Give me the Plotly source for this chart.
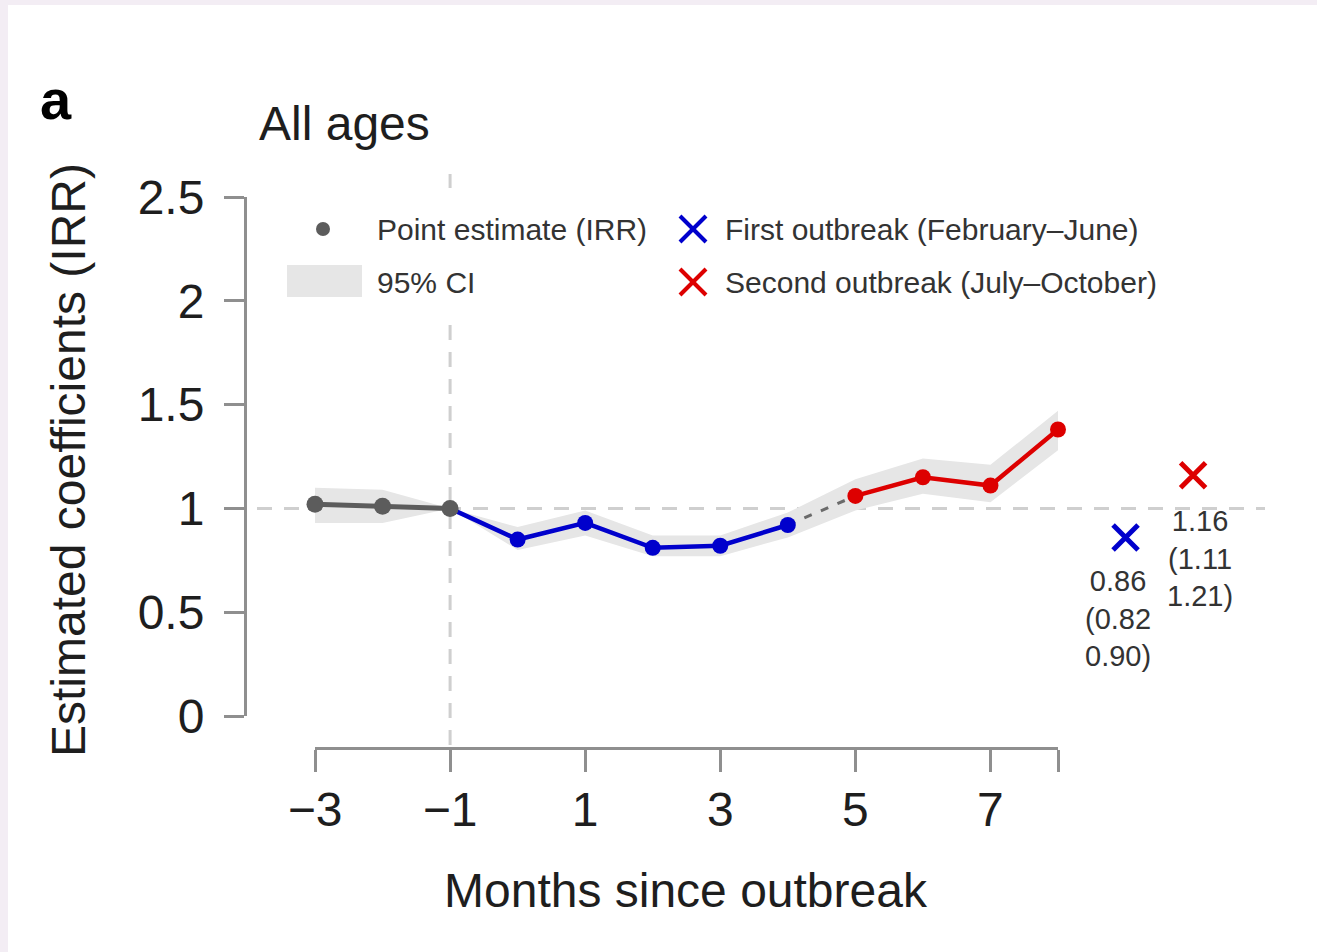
import plotly.graph_objects as go

# ---------------- data ----------------
months = [-3, -2, -1, 0, 1, 2, 3, 4, 5, 6, 7, 8]
irr = [1.02, 1.01, 1.00, 0.85, 0.93, 0.81, 0.82, 0.92, 1.06, 1.15, 1.11, 1.38]
ci_low = [0.93, 0.93, 1.00, 0.80, 0.87, 0.77, 0.77, 0.86, 0.99, 1.07, 1.03, 1.28]
ci_high = [1.10, 1.09, 1.00, 0.91, 0.99, 0.87, 0.87, 0.98, 1.14, 1.24, 1.21, 1.47]

x_tick_vals = [-3, -1, 1, 3, 5, 7]
y_tick_vals = [0, 0.5, 1, 1.5, 2, 2.5]
y_tick_labels = ["0", "0.5", "1", "1.5", "2", "2.5"]

period_names = ["First outbreak (February–June)", "Second outbreak (July–October)"]
period_x = [9, 10]
period_est = [0.86, 1.16]
period_lo = [0.82, 1.11]
period_hi = [0.90, 1.21]

reference_month = -1
first_end = 4
second_start = 5

# ---------------- styles ----------------
GRAY = "#5c5c5c"
BLUE = "#0000CC"
RED = "#DD0000"
BAND = "#e6e6e6"
AXC = "#8f8f8f"
REFC = "#cfcfcf"
TXT = "#1e1e1e"
LEGTXT = "#333333"
FONT = "Liberation Sans, Arial, Helvetica, sans-serif"

W, H = 1317, 952
L, R, T, B = 228, 1268, 172, 752          # plot area in pixels
PX_XA, PX_XB = 315, 1058                  # pixel of x=-3 and x=8
PX_Y0, PX_Y25 = 716, 197                  # pixel of y=0 and y=2.5
XA, XB = -3, 8
sx = (PX_XB - PX_XA) / (XB - XA)
sy = (PX_Y0 - PX_Y25) / 2.5
x_range = [XA - (PX_XA - L) / sx, XA + (R - PX_XA) / sx]
y_range = [-(B - PX_Y0) / sy, (PX_Y0 - T) / sy]


def fx(px):
    return (px - L) / (R - L)


def fy(py):
    return (B - py) / (B - T)


def fmt_minus(v):
    s = f"{v:g}"
    return s.replace("-", "−")


fig = go.Figure()

# CI band
fig.add_trace(go.Scatter(x=months, y=ci_low, mode="lines", line=dict(width=0, color=BAND),
                         showlegend=False, hoverinfo="skip"))
fig.add_trace(go.Scatter(x=months, y=ci_high, mode="lines", line=dict(width=0, color=BAND),
                         fill="tonexty", fillcolor=BAND, showlegend=False, hoverinfo="skip"))

idx = {m: i for i, m in enumerate(months)}
# dashed connector between the two outbreaks
i4, i5 = idx[first_end], idx[second_start]
fig.add_trace(go.Scatter(x=[months[i4], months[i5]], y=[irr[i4], irr[i5]], mode="lines",
                         line=dict(color="#6a6a6a", width=3, dash="8px,10px"),
                         showlegend=False, hoverinfo="skip"))

# first outbreak (blue), line starts at the reference month
ir = idx[reference_month]
fig.add_trace(go.Scatter(x=months[ir:i4 + 1], y=irr[ir:i4 + 1], mode="lines",
                         line=dict(color=BLUE, width=4.5), showlegend=False))
fig.add_trace(go.Scatter(x=months[ir + 1:i4 + 1], y=irr[ir + 1:i4 + 1], mode="markers",
                         marker=dict(color=BLUE, size=16), showlegend=False))
# second outbreak (red)
fig.add_trace(go.Scatter(x=months[i5:], y=irr[i5:], mode="lines+markers",
                         line=dict(color=RED, width=4.5), marker=dict(color=RED, size=16),
                         showlegend=False))
# pre-outbreak (gray)
fig.add_trace(go.Scatter(x=months[:ir + 1], y=irr[:ir + 1], mode="lines+markers",
                         line=dict(color=GRAY, width=5), marker=dict(color=GRAY, size=17),
                         showlegend=False))

# pooled estimates (crosses)
for xv, est, col in zip(period_x, period_est, [BLUE, RED]):
    fig.add_trace(go.Scatter(x=[xv], y=[est], mode="markers", cliponaxis=False,
                             marker=dict(symbol="x-thin", size=25, color=col,
                                         line=dict(color=col, width=5)),
                             showlegend=False))

annotations = []
for xv, est, lo, hi, xs, ys in zip(period_x, period_est, period_lo, period_hi, [-8, 7], [-26, -28]):
    annotations.append(dict(x=xv, y=est, xref="x", yref="y", showarrow=False,
                            text=f"{est:.2f}<br>({lo:.2f}<br>{hi:.2f})",
                            xanchor="center", yanchor="top", xshift=xs, yshift=ys,
                            align="center", font=dict(size=29, color=LEGTXT, family=FONT)))

# dummy trace so the display axes are drawn
fig.add_trace(go.Scatter(x=[None], y=[None], xaxis="x2", yaxis="y2", showlegend=False,
                         hoverinfo="skip"))

shapes = []
# reference lines
shapes.append(dict(type="line", xref="paper", yref="y", x0=fx(230), x1=fx(1265), y0=1, y1=1,
                   line=dict(color=REFC, width=3, dash="15px,12px"), layer="below"))
shapes.append(dict(type="line", xref="x", yref="paper", x0=reference_month, x1=reference_month,
                   y0=fy(745), y1=fy(322), line=dict(color=REFC, width=3, dash="15px,12px"),
                   layer="below"))
shapes.append(dict(type="line", xref="x", yref="paper", x0=reference_month, x1=reference_month,
                   y0=fy(188), y1=fy(174), line=dict(color=REFC, width=3), layer="below"))

# legend swatches
shapes.append(dict(type="circle", xref="paper", yref="paper", xsizemode="pixel", ysizemode="pixel",
                   xanchor=fx(323), yanchor=fy(229), x0=-7, x1=7, y0=-7, y1=7,
                   fillcolor=GRAY, line=dict(width=0)))
shapes.append(dict(type="rect", xref="paper", yref="paper", x0=fx(287), x1=fx(362),
                   y0=fy(297), y1=fy(265), fillcolor=BAND, line=dict(width=0)))
for cy, col in zip([229, 282], [BLUE, RED]):
    for d in (1, -1):
        shapes.append(dict(type="line", xref="paper", yref="paper", xsizemode="pixel",
                           ysizemode="pixel", xanchor=fx(693), yanchor=fy(cy),
                           x0=-13, x1=13, y0=-13 * d, y1=13 * d, line=dict(color=col, width=4)))

# page border strips
shapes.append(dict(type="rect", xref="paper", yref="paper", x0=fx(0), x1=fx(W), y0=fy(0), y1=fy(5),
                   fillcolor="#f3edf4", line=dict(width=0)))
shapes.append(dict(type="rect", xref="paper", yref="paper", x0=fx(0), x1=fx(8), y0=fy(0), y1=fy(H),
                   fillcolor="#f3edf4", line=dict(width=0)))

# legend texts
leg_items = [("Point estimate (IRR)", 375, 229), ("95% CI", 375, 282),
             (period_names[0], 723, 229), (period_names[1], 723, 282)]
for t, px, py in leg_items:
    annotations.append(dict(x=fx(px), y=fy(py), xref="paper", yref="paper", text=t,
                            showarrow=False, xanchor="left", yanchor="middle",
                            font=dict(size=30, color=LEGTXT, family=FONT)))

# titles
annotations.append(dict(x=fx(257), y=fy(123), xref="paper", yref="paper", text="All ages",
                        showarrow=False, xanchor="left", yanchor="middle",
                        font=dict(size=48, color=TXT, family=FONT)))
annotations.append(dict(x=fx(38), y=fy(100), xref="paper", yref="paper", text="<b>a</b>",
                        showarrow=False, xanchor="left", yanchor="middle",
                        font=dict(size=56, color="#000000", family=FONT)))
annotations.append(dict(x=fx(68), y=fy(460), xref="paper", yref="paper",
                        text="Estimated coefficients (IRR)", textangle=-90,
                        showarrow=False, xanchor="center", yanchor="middle",
                        font=dict(size=48, color=TXT, family=FONT)))
annotations.append(dict(x=fx(686), y=fy(890), xref="paper", yref="paper",
                        text="Months since outbreak",
                        showarrow=False, xanchor="center", yanchor="middle",
                        font=dict(size=48, color=TXT, family=FONT)))

x_tick_all = x_tick_vals + [XB]
x_tick_text = [fmt_minus(v) for v in x_tick_vals] + [""]

fig.update_layout(
    width=W, height=H,
    margin=dict(l=L, r=W - R, t=T, b=H - B, pad=0),
    paper_bgcolor="white", plot_bgcolor="rgba(0,0,0,0)",
    showlegend=False,
    font=dict(family=FONT, color=TXT),
    xaxis=dict(range=x_range, visible=False, domain=[0, 1]),
    yaxis=dict(range=y_range, visible=False, domain=[0, 1]),
    xaxis2=dict(domain=[fx(PX_XA), fx(PX_XB)], range=[XA, XB], anchor="free", position=fy(748),
                showline=True, linecolor=AXC, linewidth=3, ticks="outside", ticklen=22,
                tickwidth=3, tickcolor=AXC, tickvals=x_tick_all, ticktext=x_tick_text,
                tickfont=dict(size=48, color=TXT, family=FONT), showgrid=False, zeroline=False,
                ticklabelstandoff=-4),
    yaxis2=dict(domain=[fy(PX_Y0), fy(PX_Y25)], range=[0, 2.5], anchor="free", position=fx(245),
                showline=True, linecolor=AXC, linewidth=3, ticks="outside", ticklen=20,
                tickwidth=3, tickcolor=AXC, tickvals=y_tick_vals, ticktext=y_tick_labels,
                tickfont=dict(size=48, color=TXT, family=FONT), showgrid=False, zeroline=False,
                ticklabelstandoff=10),
    shapes=shapes,
    annotations=annotations,
)

fig.write_html("out.html")
